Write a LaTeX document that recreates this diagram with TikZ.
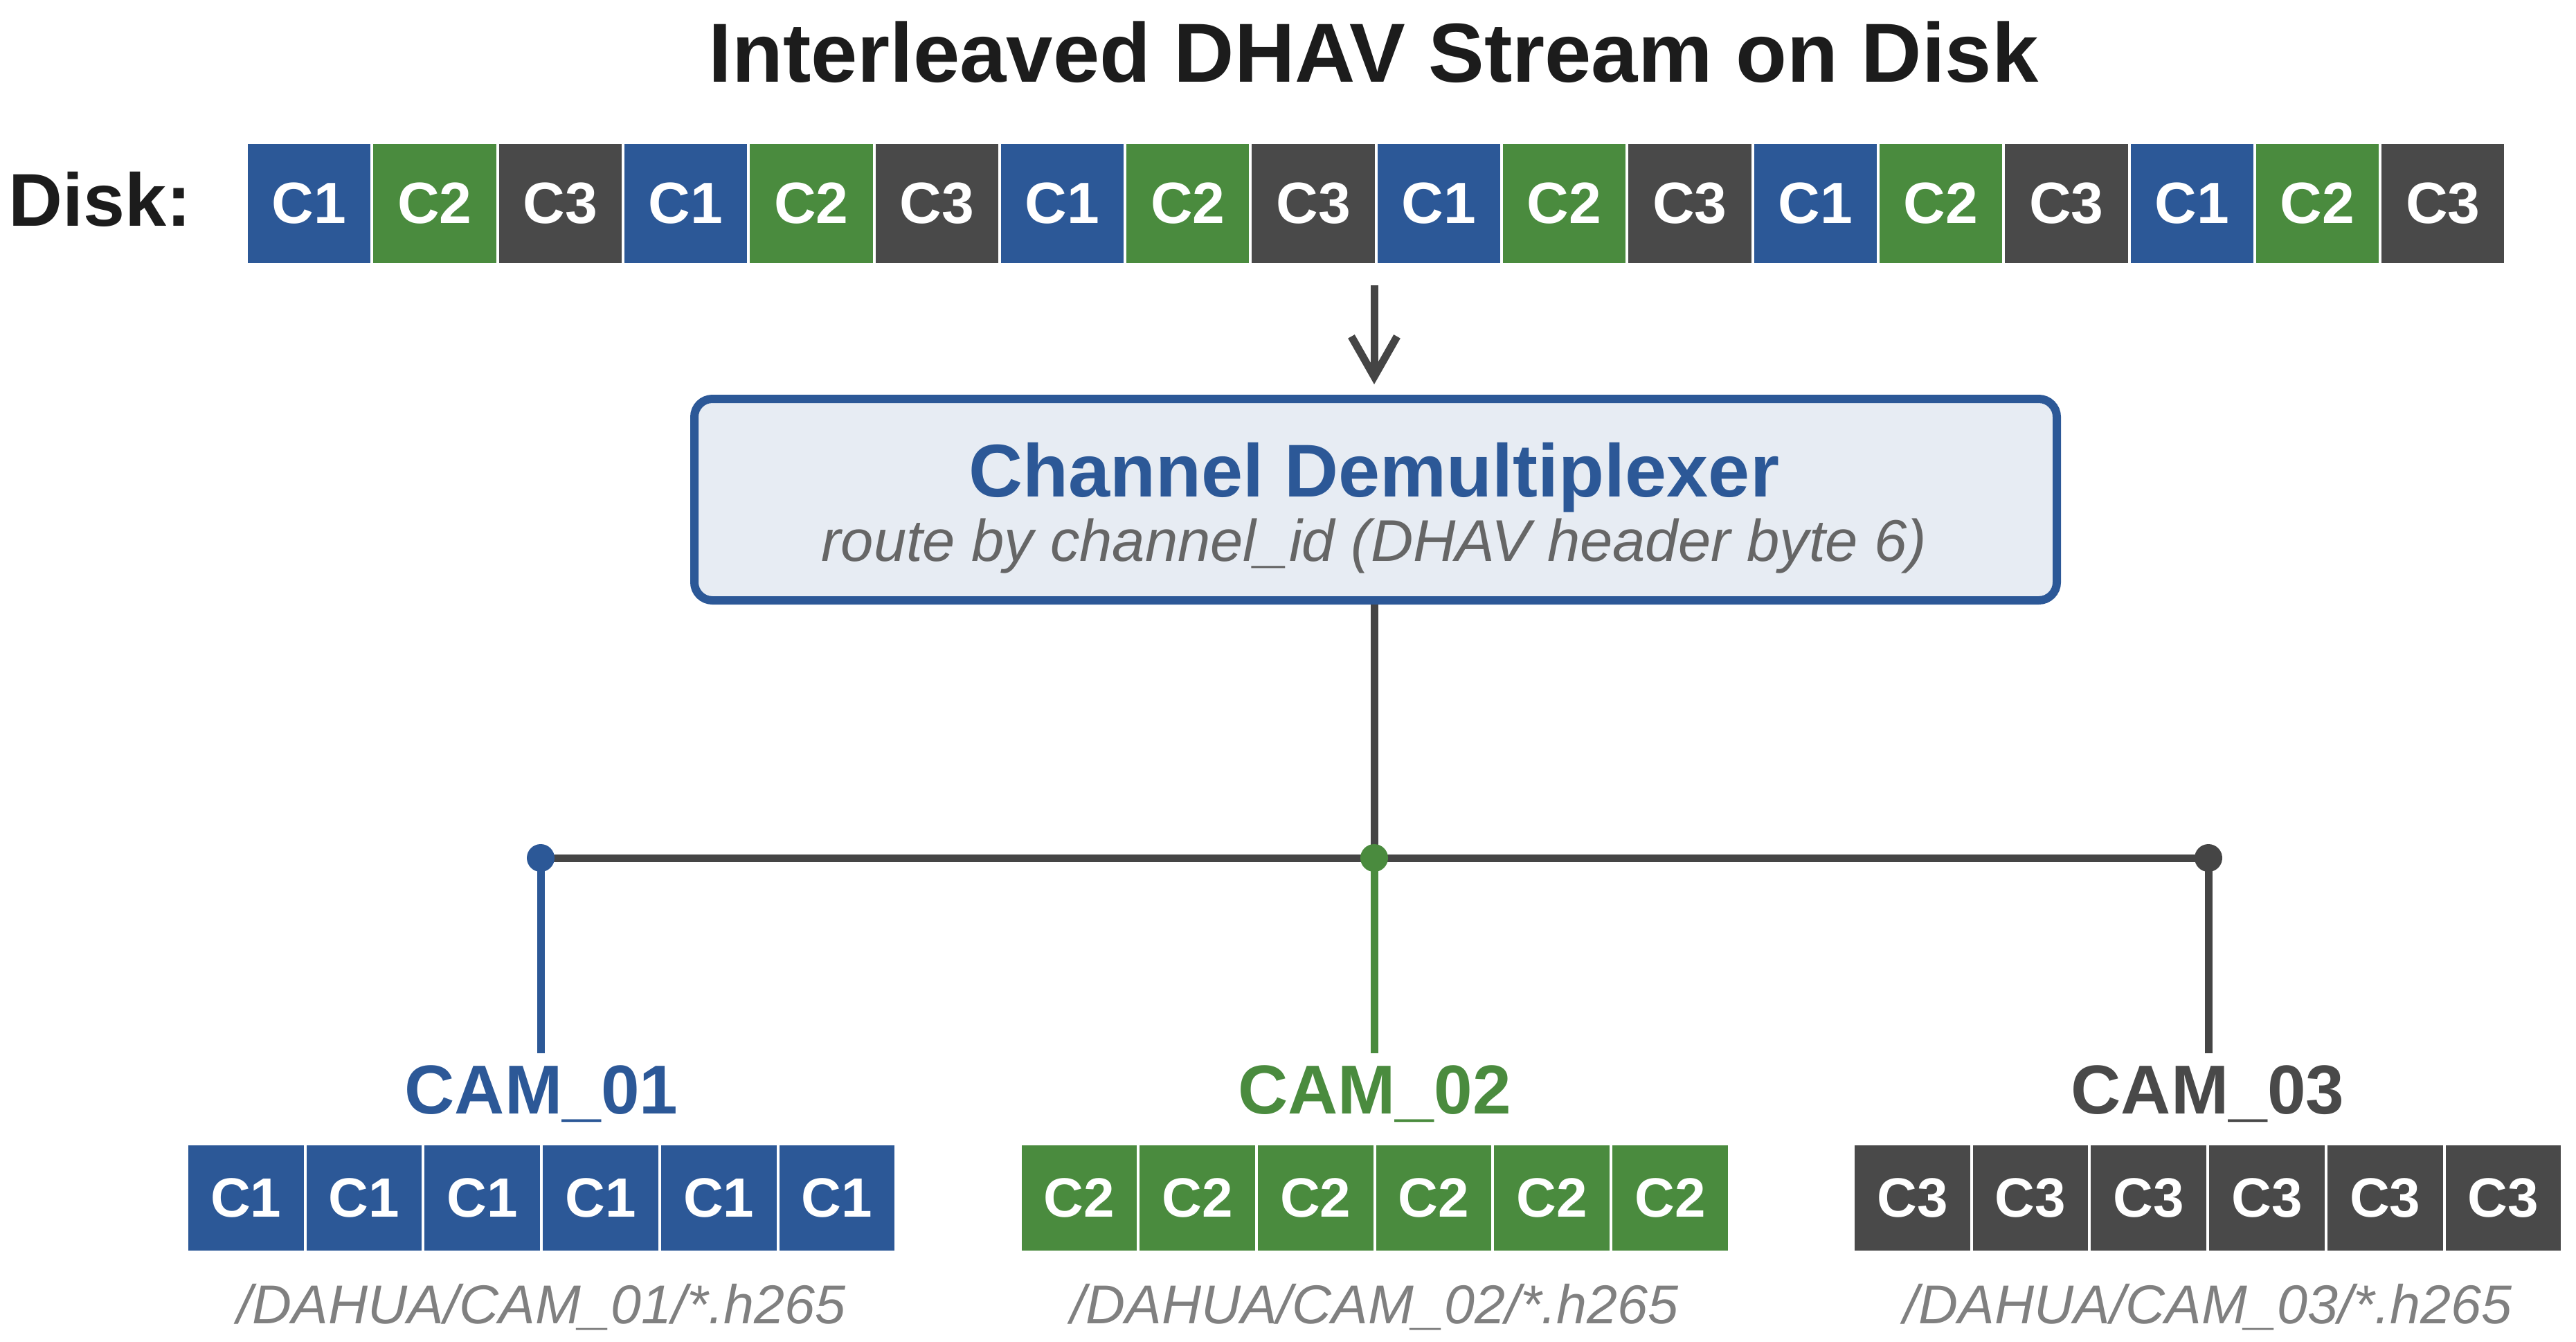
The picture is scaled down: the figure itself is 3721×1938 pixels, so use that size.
\documentclass[tikz,border=0pt]{standalone}
\usepackage{fontspec}
\setmainfont{Liberation Sans}
\usetikzlibrary{arrows.meta}
\definecolor{cblue}{HTML}{2C5897}
\definecolor{cgreen}{HTML}{4A8B3E}
\definecolor{cgray}{HTML}{494949}
\definecolor{boxfill}{HTML}{E7ECF3}
\definecolor{linegray}{HTML}{454545}
\definecolor{subgray}{HTML}{666666}
\definecolor{pathgray}{HTML}{808080}
\definecolor{titleblack}{HTML}{1C1C1C}
\newcommand\myfs[1]{\fontsize{#1}{#1}\selectfont}
\begin{document}
\begin{tikzpicture}[x=1pt,y=-1pt,
  blk/.style={draw=white, line width=4pt, minimum width=181.3pt, minimum height=176pt, inner sep=0pt, text=white, font=\myfs{84}\bfseries},
  sblk/.style={draw=white, line width=4pt, minimum width=170.7pt, minimum height=156pt, inner sep=0pt, text=white, font=\myfs{80}\bfseries},
  conn/.style={draw=linegray, line width=11pt},
  junc/.style={circle, inner sep=0pt, minimum size=40pt},
  camlbl/.style={anchor=base, inner sep=0pt, font=\myfs{100}\bfseries},
  pathlbl/.style={anchor=base, inner sep=0pt, text=pathgray, font=\myfs{79}\itshape},
]
\useasboundingbox (0,0) rectangle (3721,1938);
% title
\node[anchor=base, inner sep=0pt, text=titleblack, font=\myfs{121}\bfseries] (title) at (1984,118) {Interleaved DHAV Stream on Disk};
\node[anchor=base west, inner sep=0pt, text=titleblack, font=\myfs{108}\bfseries] (disklbl) at (12,326) {Disk:};
% disk row
\foreach \i in {0,...,5} {
  \foreach \k/\col in {1/cblue,2/cgreen,3/cgray} {
    \pgfmathsetmacro\xx{356+181.3*(3*\i+\k-0.5)}
    \node[blk, fill=\col] (d\i\k) at (\xx,294) {C\k};
  }
}
% demux box
\node[draw=cblue, fill=boxfill, line width=12pt, rounded corners=26pt, minimum width=1968pt, minimum height=291pt, inner sep=0pt] (demux) at (1987,721.5) {};
\node[anchor=base, inner sep=0pt, text=cblue, font=\myfs{108}\bfseries] (dmtitle) at (1985,717) {Channel Demultiplexer};
\node[anchor=base, inner sep=0pt, text=subgray, font=\myfs{85}\itshape] (dmsub) at (1985,810) {route by channel\_id (DHAV header byte 6)};
% arrow into demux
\coordinate (astart) at (1985,412);
\draw[draw=linegray, line width=11pt, -{Straight Barb[length=58pt,width=66pt]}, shorten >=15pt] (astart) -- (demux.north -| astart);
% junctions
\node[junc] (j1) at (781,1239) {};
\node[junc] (j2) at (1985,1239) {};
\node[junc] (j3) at (3190,1239) {};
\draw[conn] (demux.south -| j2) -- (j2.center);
\draw[conn] (j1.center) -- (j3.center);
\coordinate (e1) at (781,1521);
\coordinate (e2) at (1985,1521);
\coordinate (e3) at (3190,1521);
\draw[line width=11pt, draw=cblue] (j1.center) -- (e1);
\draw[line width=11pt, draw=cgreen] (j2.center) -- (e2);
\draw[line width=11pt, draw=linegray] (j3.center) -- (e3);
\fill[cblue] (j1) circle (20pt);
\fill[cgreen] (j2) circle (20pt);
\fill[linegray] (j3) circle (20pt);
% camera groups
\foreach \r/\col/\lblcol/\n in {0/cblue/cblue/1, 1/cgreen/cgreen/2, 2/cgray/cgray/3} {
  \pgfmathsetmacro\cx{782+1203.5*\r}
  \node[camlbl, text=\lblcol] (cam\n) at (\cx,1608) {CAM\_0\n};
  \foreach \k in {1,...,6} {
    \pgfmathsetmacro\xx{270+1203.5*\r+170.7*(\k-0.5)}
    \node[sblk, fill=\col] (s\n\k) at (\xx,1730) {C\n};
  }
  \node[pathlbl] (path\n) at (\cx,1911) {/DAHUA/CAM\_0\n/*.h265};
}
\end{tikzpicture}
\end{document}
